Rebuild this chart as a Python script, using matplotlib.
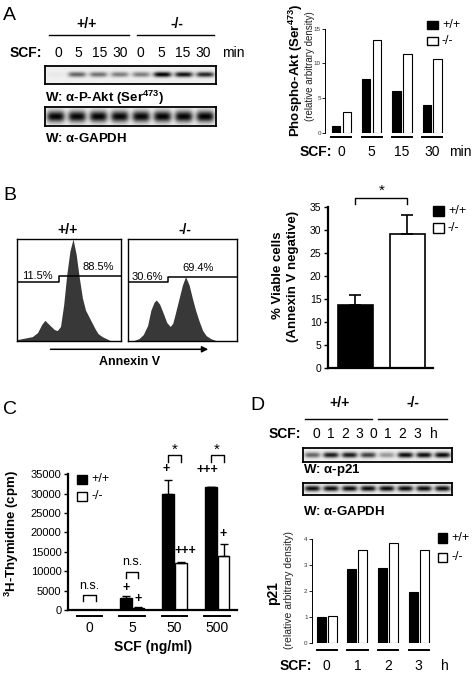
import numpy as np
import matplotlib
matplotlib.use("Agg")
import matplotlib.pyplot as plt
import matplotlib.transforms as mtransforms
from matplotlib.patches import Rectangle
from matplotlib.lines import Line2D

plt.rcParams['font.family'] = ['Liberation Sans', 'DejaVu Sans']
plt.rcParams['mathtext.default'] = 'regular'

# ---- data ----
# A: phospho-Akt densitometry
akt_times = ["0", "5", "15", "30"]
akt_wt = [1.0, 7.7, 6.05, 4.0]
akt_ko = [3.0, 13.3, 11.4, 10.7]
akt_lanes = ["0", "5", "15", "30", "0", "5", "15", "30"]
akt_band = [0.03, 0.55, 0.5, 0.45, 0.45, 0.95, 0.88, 0.8]
gapdh_a_band = [0.93, 0.92, 0.93, 0.92, 0.92, 0.93, 0.93, 0.94]

# B: annexin V histograms (x as fraction of the box, relative counts)
hist_wt_x = [0.0, 0.05, 0.10, 0.15, 0.20, 0.24, 0.27, 0.30, 0.33, 0.36, 0.39, 0.42, 0.45,
             0.48, 0.51, 0.54, 0.57, 0.60, 0.63, 0.66, 0.69, 0.72, 0.75, 0.78, 0.82,
             0.86, 0.90, 1.0]
hist_wt_y = [0.01, 0.02, 0.03, 0.04, 0.08, 0.16, 0.20, 0.17, 0.14, 0.11, 0.10, 0.14, 0.35,
             0.65, 0.88, 1.00, 0.85, 0.62, 0.42, 0.30, 0.24, 0.18, 0.12, 0.07, 0.04,
             0.02, 0.0, 0.0]
hist_ko_x = [0.0, 0.05, 0.10, 0.14, 0.18, 0.21, 0.24, 0.26, 0.29, 0.32, 0.355, 0.387, 0.41,
             0.43, 0.465, 0.50, 0.528, 0.56, 0.59, 0.62, 0.65, 0.685, 0.717, 0.76, 0.81, 1.0]
hist_ko_y = [0.0, 0.0, 0.02, 0.06, 0.15, 0.30, 0.38, 0.40, 0.36, 0.28, 0.18, 0.14, 0.17,
             0.25, 0.40, 0.55, 0.63, 0.55, 0.42, 0.30, 0.20, 0.10, 0.05, 0.02, 0.0, 0.0]
gate_wt = ["11.5%", "88.5%"]
gate_ko = ["30.6%", "69.4%"]

viable_mean = [13.7, 29.1]
viable_err = [2.2, 4.3]

# C: thymidine incorporation
scf_doses = ["0", "5", "50", "500"]
thy_wt = [80, 3000, 30000, 31700]
thy_wt_err = [0, 500, 3500, 0]
thy_ko = [60, 600, 12200, 14000]
thy_ko_err = [0, 100, 200, 3000]

# D: p21
p21_times = ["0", "1", "2", "3"]
p21_wt = [1.0, 2.87, 2.88, 1.95]
p21_ko = [1.02, 3.6, 3.87, 3.57]
p21_lanes = ["0", "1", "2", "3", "0", "1", "2", "3"]
p21_band = [0.55, 0.85, 0.85, 0.7, 0.35, 0.9, 0.9, 0.92]
gapdh_d_band = [0.9, 0.9, 0.9, 0.9, 0.9, 0.9, 0.9, 0.9]

W, H = 475, 673
fig = plt.figure(figsize=(W / 100, H / 100), dpi=100)
PX = mtransforms.Affine2D().scale(1 / W, -1 / H).translate(0, 1) + fig.transFigure


def add_ax(x0, y0, x1, y1):
    return fig.add_axes([x0 / W, 1 - y1 / H, (x1 - x0) / W, (y1 - y0) / H])


def txt(x, y, s, size=10, weight='normal', ha='center', va='center', **kw):
    fig.text(x, y, s, transform=PX, fontsize=size, fontweight=weight, ha=ha, va=va, **kw)


def hline(x0, x1, y, lw=1.0):
    fig.add_artist(Line2D([x0, x1], [y, y], transform=PX, color='black', lw=lw))


def legend_px(x, y_wt, y_ko, w, h):
    fig.add_artist(Rectangle((x, y_wt), w, h, transform=PX, fc='black', ec='black', lw=1))
    fig.add_artist(Rectangle((x, y_ko), w, h, transform=PX, fc='white', ec='black', lw=1))
    txt(x + w + 4, y_wt + h / 2, "+/+", size=9, ha='left')
    txt(x + w + 4, y_ko + h / 2, "-/-", size=9, ha='left')


def draw_blot(box, levels, band_h, bg=0.94):
    ax = add_ax(*box)
    n = len(levels)
    xs = np.linspace(0, n, 500)
    ys = np.linspace(0, 1, 60)
    img = np.full((ys.size, xs.size), bg)
    for i, lv in enumerate(levels):
        prof_x = np.exp(-((xs - (i + 0.5)) / 0.42) ** 4)
        prof_y = np.exp(-((ys - 0.5) / band_h) ** 2)
        img -= lv * prof_y[:, None] * prof_x[None, :]
    ax.imshow(np.clip(img, 0, 1), cmap='gray', vmin=0, vmax=1, extent=[0, n, 1, 0],
              aspect='auto', interpolation='bilinear')
    ax.set_xticks([])
    ax.set_yticks([])
    for s in ax.spines.values():
        s.set_linewidth(1.3)
    return ax


def density_axes(ax, ymax, ticks):
    ax.set_ylim(0, ymax)
    for s in ['top', 'right', 'bottom']:
        ax.spines[s].set_visible(False)
    ax.spines['left'].set_bounds(0, ymax)
    ax.spines['left'].set_linewidth(0.7)
    ax.set_yticks(ticks)
    ax.tick_params(axis='y', labelsize=4.5, length=2, width=0.6, pad=1, labelcolor='#333333')
    ax.set_xticks([])
    ax.patch.set_alpha(0)


def under_groups(ax, n, y, half=0.33, lw=1.4):
    tr = mtransforms.blended_transform_factory(ax.transData, PX)
    for i in range(n):
        ax.plot([i - half, i + half], [y, y], transform=tr, color='black', lw=lw, clip_on=False)
    return tr


# ================= Panel A =================
txt(3, 15, "A", size=14, ha='left')
txt(87, 24, "+/+", size=10, weight='bold')
hline(49, 129, 34.5)
txt(177, 24, "-/-", size=10, weight='bold')
hline(137, 214, 34.5)
txt(10, 52.7, "SCF:", size=10, weight='bold', ha='left')
for xp, lab in zip(np.linspace(58, 203, 8), akt_lanes):
    txt(xp, 52.7, lab, size=10)
txt(233, 52.7, "min", size=10)
draw_blot((45, 65.7, 216, 84), akt_band, 0.14)
txt(45, 98, r"W: $\alpha$-P-Akt (Ser$^{473}$)", size=9.5, weight='bold', ha='left')
draw_blot((45, 107.3, 216, 126), gapdh_a_band, 0.3)
txt(45, 139, r"W: $\alpha$-GAPDH", size=9.5, weight='bold', ha='left')

axA = add_ax(325, 28.7, 445, 132.7)
xa = np.arange(len(akt_times))
axA.bar(xa - 0.18, akt_wt, 0.28, color='black', edgecolor='black', lw=0.8)
axA.bar(xa + 0.18, akt_ko, 0.28, color='white', edgecolor='black', lw=0.8)
axA.set_xlim(-0.54, 3.42)
density_axes(axA, 15, [0, 5, 10, 15])
trA = under_groups(axA, 4, 137.3)
for i, lab in enumerate(akt_times):
    axA.text(i, 152, lab, transform=trA, fontsize=10, ha='center', va='center')
txt(332, 152, "SCF:", size=10, weight='bold', ha='right')
txt(460, 152, "min", size=10)
txt(295.5, 70, r"Phospho-Akt (Ser$^{473}$)", size=9.5, weight='bold', rotation=90)
txt(310, 66, "(relative arbitrary density)", size=7, rotation=90, color='#222222')
legend_px(427, 20.5, 36.5, 11, 8)

# ================= Panel B =================
txt(3, 195, "B", size=14, ha='left')
txt(68, 230, "+/+", size=10, weight='bold')
txt(185, 230, "-/-", size=10, weight='bold')


def flow_box(box, hx, hy, step, lo, hi, labels, lab_pos):
    ax = add_ax(*box)
    ax.fill_between(hx, 0, hy, color='#383838', lw=0)
    ax.plot([0, step, step, 1], [lo, lo, hi, hi], color='black', lw=1.1)
    ax.text(lab_pos[0], lab_pos[1], labels[0], transform=ax.transAxes, fontsize=8, va='center')
    ax.text(lab_pos[2], lab_pos[3], labels[1], transform=ax.transAxes, fontsize=8, va='center')
    ax.set_xlim(0, 1)
    ax.set_ylim(0, 1)
    ax.set_xticks([])
    ax.set_yticks([])
    for s in ax.spines.values():
        s.set_linewidth(1.0)
    return ax


flow_box((16.7, 239, 121, 340.7), hist_wt_x, hist_wt_y, 0.41, 0.574, 0.64,
         gate_wt, (0.05, 0.64, 0.63, 0.72))
flow_box((128, 239, 237, 340.7), hist_ko_x, hist_ko_y, 0.37, 0.574, 0.63,
         gate_ko, (0.03, 0.63, 0.5, 0.71))
fig.add_artist(matplotlib.patches.FancyArrowPatch((47.7, 349.3), (211, 349.3), transform=PX,
                                                  arrowstyle='-|>', mutation_scale=9,
                                                  color='black', lw=1.1))
txt(130, 362, "Annexin V", size=9, weight='bold')

axB = add_ax(328.3, 207.3, 433.3, 368.3)
xb = np.arange(2)
axB.bar(xb, viable_mean, 0.68, color=['black', 'white'], edgecolor='black', lw=1.2)
axB.errorbar(xb, viable_mean, yerr=[[0, 0], viable_err], fmt='none', ecolor='black',
             elinewidth=1.2, capsize=4.5, capthick=1.2)
axB.set_xlim(-0.52, 1.5)
axB.set_ylim(0, 35)
axB.set_yticks(range(0, 36, 5))
axB.set_xticks([])
for s in ['top', 'right']:
    axB.spines[s].set_visible(False)
for s in ['left', 'bottom']:
    axB.spines[s].set_linewidth(1.6)
axB.tick_params(axis='y', labelsize=7.5, length=3, width=1, pad=2)
trB = mtransforms.blended_transform_factory(axB.transData, PX)
axB.plot([0, 0, 1, 1], [204.3, 197.7, 197.7, 204.3], transform=trB, color='black', lw=1,
         clip_on=False)
axB.text(0.5, 191, "*", transform=trB, fontsize=11, ha='center', va='center')
txt(278, 275, "% Viable cells", size=9.5, weight='bold', rotation=90)
txt(293, 276, "(Annexin V negative)", size=9.5, weight='bold', rotation=90)
legend_px(433, 206, 223, 11, 9.5)

# ================= Panel C =================
txt(3, 410, "C", size=14, ha='left')
axC = add_ax(68.3, 474.3, 236.7, 610)
xc = np.arange(len(scf_doses))
axC.bar(xc - 0.15, thy_wt, 0.275, color='black', edgecolor='black', lw=1)
axC.bar(xc + 0.15, thy_ko, 0.275, color='white', edgecolor='black', lw=1)
axC.errorbar(xc - 0.15, thy_wt, yerr=[np.zeros(4), thy_wt_err], fmt='none', ecolor='black',
             elinewidth=1, capsize=3, capthick=1)
axC.errorbar(xc + 0.15, thy_ko, yerr=[np.zeros(4), thy_ko_err], fmt='none', ecolor='black',
             elinewidth=1, capsize=3, capthick=1)
axC.set_xlim(-0.5, 3.46)
axC.set_ylim(0, 35000)
axC.set_yticks(range(0, 35001, 5000))
axC.set_xticks([])
for s in ['top', 'right']:
    axC.spines[s].set_visible(False)
for s in ['left', 'bottom']:
    axC.spines[s].set_linewidth(1.6)
axC.tick_params(axis='y', labelsize=8, length=3, width=1, pad=2)

# significance brackets: (group, bracket top, leg bottom, label, label y)
for g, top, bot, lab, ly in [(0, 3870, 2400, "n.s.", 6300), (1, 9720, 8180, "n.s.", 12300),
                             (2, 39980, 38250, "*", 41300), (3, 39980, 38250, "*", 41300)]:
    axC.plot([g - 0.15, g - 0.15, g + 0.15, g + 0.15], [bot, top, top, bot], color='black',
             lw=1, clip_on=False)
    axC.text(g, ly, lab, fontsize=9 if lab != "*" else 11, ha='center', va='center')
for xg, y, lab in [(1 - 0.15, 5600, "+"), (1 + 0.15, 2900, "+"), (2 - 0.2, 36300, "+"),
                   (2 + 0.25, 15200, "+++"), (3 - 0.22, 36000, "+++"), (3 + 0.15, 19700, "+")]:
    axC.text(xg, y, lab, fontsize=9, fontweight='bold', ha='center', va='center')

trC = under_groups(axC, 4, 616, half=0.3)
for i, lab in enumerate(scf_doses):
    axC.text(i, 628.3, lab, transform=trC, fontsize=10, ha='center', va='center')
txt(153, 647, "SCF (ng/ml)", size=10, weight='bold')
txt(12, 534, r"$^{3}$H-Thymidine (cpm)", size=9.5, weight='bold', rotation=90)
legend_px(77.3, 475, 491.7, 10, 9)

# ================= Panel D =================
txt(250, 405, "D", size=14, ha='left')
txt(340, 403, "+/+", size=10, weight='bold')
hline(305, 371.7, 419)
txt(413, 403, "-/-", size=10, weight='bold')
hline(378.3, 447.3, 419)
txt(301, 434, "SCF:", size=10, weight='bold', ha='right')
for xp, lab in zip(np.linspace(316, 417, 8), p21_lanes):
    txt(xp, 434, lab, size=10)
txt(434.3, 434, "h", size=10)
draw_blot((302.7, 447.7, 451.7, 461.7), p21_band, 0.2)
txt(302.7, 470.5, r"W: $\alpha$-p21", size=9.5, weight='bold', ha='left')
draw_blot((302.7, 482.7, 451.7, 495), gapdh_d_band, 0.22)
txt(302.7, 511.7, r"W: $\alpha$-GAPDH", size=9.5, weight='bold', ha='left')

axD = add_ax(311.7, 539.3, 435, 642.7)
xd = np.arange(len(p21_times))
axD.bar(xd - 0.18, p21_wt, 0.29, color='black', edgecolor='black', lw=0.8)
axD.bar(xd + 0.18, p21_ko, 0.29, color='white', edgecolor='black', lw=0.8)
axD.set_xlim(-0.49, 3.53)
density_axes(axD, 4, [0, 1, 2, 3, 4])
trD = under_groups(axD, 4, 650, half=0.33)
for i, lab in enumerate(p21_times):
    axD.text(i, 665.5, lab, transform=trD, fontsize=10, ha='center', va='center')
txt(312, 665.5, "SCF:", size=10, weight='bold', ha='right')
txt(445, 665.5, "h", size=10)
txt(273, 593, "p21", size=10, weight='bold', rotation=90)
txt(289, 590, "(relative arbitrary density)", size=7.5, rotation=90, color='#222222')
legend_px(438.3, 533.3, 552.7, 9, 9.3)

fig.savefig("out.png", dpi=100)
